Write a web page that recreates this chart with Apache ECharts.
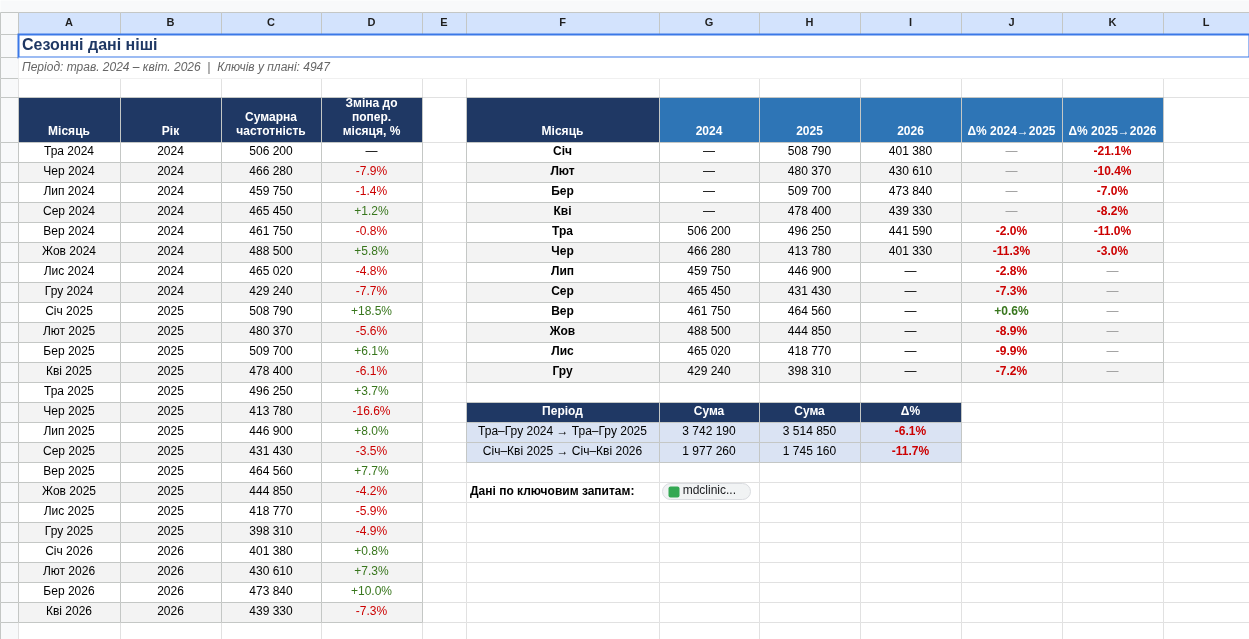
<!DOCTYPE html>
<html><head><meta charset="utf-8">
<script src="https://cdn.jsdelivr.net/npm/echarts@6/dist/echarts.min.js"></script>
<style>html,body{margin:0;padding:0;background:#fff}#c{width:1249px;height:639px}</style>
</head><body><div id="c"></div>
<script>
// ---- data ----
const months = ['Тра 2024','Чер 2024','Лип 2024','Сер 2024','Вер 2024','Жов 2024','Лис 2024','Гру 2024','Січ 2025','Лют 2025','Бер 2025','Кві 2025','Тра 2025','Чер 2025','Лип 2025','Сер 2025','Вер 2025','Жов 2025','Лис 2025','Гру 2025','Січ 2026','Лют 2026','Бер 2026','Кві 2026'];
const years = [2024,2024,2024,2024,2024,2024,2024,2024,2025,2025,2025,2025,2025,2025,2025,2025,2025,2025,2025,2025,2026,2026,2026,2026];
const totals = [506200,466280,459750,465450,461750,488500,465020,429240,508790,480370,509700,478400,496250,413780,446900,431430,464560,444850,418770,398310,401380,430610,473840,439330];
const changes = [null,-7.9,-1.4,1.2,-0.8,5.8,-4.8,-7.7,18.5,-5.6,6.1,-6.1,3.7,-16.6,8.0,-3.5,7.7,-4.2,-5.9,-4.9,0.8,7.3,10.0,-7.3];
const monthNames = ['Січ','Лют','Бер','Кві','Тра','Чер','Лип','Сер','Вер','Жов','Лис','Гру'];
const y2024 = [null,null,null,null,506200,466280,459750,465450,461750,488500,465020,429240];
const y2025 = [508790,480370,509700,478400,496250,413780,446900,431430,464560,444850,418770,398310];
const y2026 = [401380,430610,473840,439330,441590,401330,null,null,null,null,null,null];
const d1 = [null,null,null,null,-2.0,-11.3,-2.8,-7.3,0.6,-8.9,-9.9,-7.2];
const d2 = [-21.1,-10.4,-7.0,-8.2,-11.0,-3.0,null,null,null,null,null,null];
const sumPeriods = ['Тра–Гру 2024 → Тра–Гру 2025','Січ–Кві 2025 → Січ–Кві 2026'];
const sumA = [3742190,1977260];
const sumB = [3514850,1745160];
const sumD = [-6.1,-11.7];
const colLetters = ['A','B','C','D','E','F','G','H','I','J','K','L'];

// ---- layout ----
const colX = [18,120,221,321,422,466,659,759,860,961,1062,1163,1249];
const rowY = [34,57,78,97,142]; for(let i=0;i<25;i++) rowY.push(142+20*(i+1));
const NAVY='#1f3864', BLUE='#2e75b6', RED='#cc0000', GREEN='#38761d', ALT='#f3f3f3', LB='#dae3f3';
const fmt = v => v==null ? '—' : String(v).replace(/\B(?=(\d{3})+(?!\d))/g,' ');
const pct = v => (v>0?'+':'')+v.toFixed(1)+'%';
const cells = [];
function cell(c0,c1,r0,r1,o){cells.push(Object.assign({x0:colX[c0],x1:colX[c1],y0:rowY[r0],y1:rowY[r1]},o));}
function px(x0,x1,y0,y1,o){cells.push(Object.assign({x0,x1,y0,y1},o));}

// background grid
px(0,1249,0,12,{fill:'#f8f9fa',stroke:null});
px(0,18,12,34,{fill:'#f8f9fa',stroke:'#c4c7c5'});
for(let c=0;c<12;c++) px(colX[c],colX[c+1],12,34,{fill:'#d3e3fd',stroke:'#c4c7c5',text:colLetters[c],bold:true,size:11,color:'#1f1f1f'});
for(let r=0;r<rowY.length-1;r++){
  px(0,18,rowY[r],rowY[r+1],{fill:'#f8f9fa',stroke:'#c4c7c5'});
  for(let c=0;c<12;c++) cell(c,c+1,r,r+1,{fill:'#fff',stroke:'#e1e1e1'});
}
px(0,18,rowY[rowY.length-1],639,{fill:'#f8f9fa',stroke:'#c4c7c5'});
for(let c=0;c<12;c++) px(colX[c],colX[c+1],rowY[rowY.length-1],639,{fill:'#fff',stroke:'#e1e1e1'});
// title rows
px(18,1249,34,57,{fill:'#fff',stroke:'#3b78e7',lw:2,text:'Сезонні дані ніші',bold:true,size:16,color:NAVY,align:'left',pad:4});
px(18,1249,57,78,{fill:'#fff',stroke:null,text:'Період: трав. 2024 – квіт. 2026  |  Ключів у плані: 4947',italic:true,size:12,color:'#666',align:'left',pad:4});
// left table header
const lh = ['Місяць','Рік','Сумарна\nчастотність','Зміна до\nпопер.\nмісяця, %'];
lh.forEach((t,i)=>cell(i,i+1,3,4,{fill:NAVY,stroke:'#c4c7c5',text:t,bold:true,color:'#fff',valign:'bottom'}));
months.forEach((m,i)=>{
  const f = i%2 ? ALT : '#fff', r=4+i;
  cell(0,1,r,r+1,{fill:f,stroke:'#c4c7c5',text:m});
  cell(1,2,r,r+1,{fill:f,stroke:'#c4c7c5',text:String(years[i])});
  cell(2,3,r,r+1,{fill:f,stroke:'#c4c7c5',text:fmt(totals[i])});
  const v=changes[i];
  cell(3,4,r,r+1,{fill:f,stroke:'#c4c7c5',text:v==null?'—':pct(v),color:v==null?'#000':(v<0?RED:GREEN)});
});
// right table
const rh=['Місяць','2024','2025','2026','Δ% 2024→2025','Δ% 2025→2026'];
rh.forEach((t,i)=>cell(5+i,6+i,3,4,{fill:i==0?NAVY:BLUE,stroke:'#c4c7c5',text:t,bold:true,color:'#fff',valign:'bottom'}));
monthNames.forEach((m,i)=>{
  const f=i%2?ALT:'#fff', r=4+i;
  cell(5,6,r,r+1,{fill:f,stroke:'#c4c7c5',text:m,bold:true});
  [y2024,y2025,y2026].forEach((a,k)=>cell(6+k,7+k,r,r+1,{fill:f,stroke:'#c4c7c5',text:fmt(a[i])}));
  [d1,d2].forEach((a,k)=>{const v=a[i];
    cell(9+k,10+k,r,r+1,{fill:f,stroke:'#c4c7c5',text:v==null?'—':pct(v),bold:v!=null,color:v==null?'#999':(v<0?RED:GREEN)});});
});
// summary table
['Період','Сума','Сума','Δ%'].forEach((t,i)=>cell(5+i,6+i,17,18,{fill:NAVY,stroke:'#c4c7c5',text:t,bold:true,color:'#fff'}));
sumPeriods.forEach((p,i)=>{const r=18+i;
  cell(5,6,r,r+1,{fill:LB,stroke:'#c4c7c5',text:p});
  cell(6,7,r,r+1,{fill:LB,stroke:'#c4c7c5',text:fmt(sumA[i])});
  cell(7,8,r,r+1,{fill:LB,stroke:'#c4c7c5',text:fmt(sumB[i])});
  cell(8,9,r,r+1,{fill:LB,stroke:'#c4c7c5',text:pct(sumD[i]),bold:true,color:RED});
});
cell(5,6,21,22,{fill:null,stroke:null,text:'Дані по ключовим запитам:',bold:true,align:'left',pad:4});
px(662,750,483,499,{fill:'#f1f3f4',stroke:'#dadce0',radius:8,text:'     mdclinic...',size:12,align:'left',pad:4,color:'#202124'});
px(668,679,486,497,{fill:'#34a853',stroke:null,radius:2});

const chart = echarts.init(document.getElementById('c'),null,{renderer:'canvas'});
chart.setOption({
  animation:false,
  grid:{left:0,right:0,top:0,bottom:0},
  xAxis:{type:'value',min:0,max:1249,show:false},
  yAxis:{type:'value',min:0,max:639,inverse:true,show:false},
  series:[{type:'custom',clip:false,data:cells.map((c,i)=>[c.x0,c.y0,i]),
    renderItem:(params,api)=>{
      const c=cells[params.dataIndex];
      const p0=api.coord([c.x0,c.y0]), p1=api.coord([c.x1,c.y1]);
      const w=p1[0]-p0[0], h=p1[1]-p0[1];
      const ch=[{type:'rect',shape:{x:p0[0]+0.5,y:p0[1]+0.5,width:w,height:h,r:c.radius||0},
        style:{fill:c.fill||'transparent',stroke:c.stroke||null,lineWidth:c.lw||1}}];
      if(c.text){
        const al=c.align||'center', va=c.valign||'middle';
        ch.push({type:'text',x:al=='left'?p0[0]+(c.pad||3):p0[0]+w/2,
          y:va=='bottom'?p1[1]-3:p0[1]+h/2,
          style:{text:c.text,align:al,verticalAlign:va,fill:c.color||'#000',
            font:(c.italic?'italic ':'')+(c.bold?'bold ':'')+(c.size||12)+'px Arial, "Liberation Sans", sans-serif',lineHeight:(c.size||12)+2}});
      }
      return {type:'group',children:ch};
    }}]
});
</script></body></html>
